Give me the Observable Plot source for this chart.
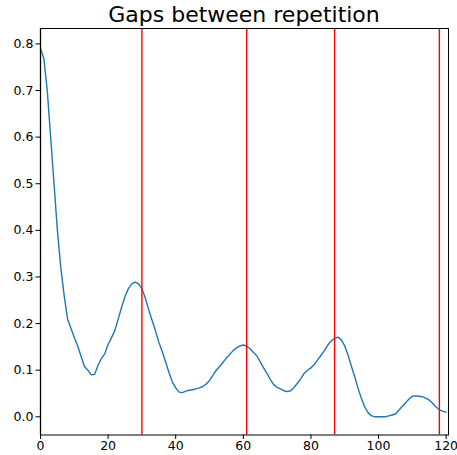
<!DOCTYPE html>
<html>
<head>
<meta charset="utf-8">
<script src="https://cdn.jsdelivr.net/npm/d3@7"></script>
<script src="https://cdn.jsdelivr.net/npm/@observablehq/plot@0.6"></script>
<style>
  html, body { margin: 0; padding: 0; background: #fff; }
  #title { box-sizing: border-box; width: 457px; height: 27px; padding: 4px 9px 0 40px; text-align: center;
           font: 22px "DejaVu Sans", sans-serif; line-height: 1; color: #000; white-space: nowrap; }
</style>
</head>
<body>
<div id="title">Gaps between repetition</div>
<div id="chart"></div>
<script>
const titleText = "Gaps between repetition";
const lags = [0,1,2,3,4,5,6,7,8,9,10,11,12,13,14,15,16,17,18,19,20,21,22,23,24,25,26,27,28,29,30,31,32,33,34,35,36,37,38,39,40,41,42,43,44,45,46,47,48,49,50,51,52,53,54,55,56,57,58,59,60,61,62,63,64,65,66,67,68,69,70,71,72,73,74,75,76,77,78,79,80,81,82,83,84,85,86,87,88,89,90,91,92,93,94,95,96,97,98,99,100,101,102,103,104,105,106,107,108,109,110,111,112,113,114,115,116,117,118,119,120];
const gapValues = [0.79,0.768,0.70,0.60,0.50,0.40,0.32,0.26,0.21,0.19,0.17,0.152,0.13,0.108,0.10,0.09,0.091,0.11,0.125,0.135,0.155,0.17,0.185,0.21,0.235,0.258,0.275,0.285,0.289,0.285,0.275,0.255,0.23,0.207,0.185,0.16,0.14,0.118,0.095,0.075,0.062,0.053,0.052,0.055,0.057,0.058,0.06,0.062,0.065,0.07,0.078,0.089,0.1,0.108,0.117,0.126,0.134,0.142,0.148,0.152,0.154,0.152,0.146,0.138,0.131,0.118,0.105,0.093,0.08,0.069,0.063,0.06,0.056,0.054,0.056,0.063,0.072,0.082,0.093,0.1,0.105,0.112,0.122,0.132,0.142,0.154,0.163,0.168,0.171,0.165,0.152,0.132,0.108,0.085,0.06,0.038,0.02,0.008,0.002,0.0,0.0,0.0,0.0,0.002,0.004,0.006,0.014,0.022,0.03,0.038,0.044,0.045,0.044,0.043,0.04,0.036,0.029,0.021,0.015,0.012,0.01];
const repetitionMarks = [0, 30, 61, 87, 118];
const xTicks = [0, 20, 40, 60, 80, 100, 120];
const yTicks = [0.0, 0.1, 0.2, 0.3, 0.4, 0.5, 0.6, 0.7, 0.8];

const data = lags.map((x, i) => ({x, y: gapValues[i]}));

const chart = Plot.plot({
  width: 457,
  height: 428,
  marginTop: 1,
  marginBottom: 20.5,
  marginLeft: 40,
  marginRight: 9,
  style: {fontFamily: "DejaVu Sans, sans-serif", fontSize: "12.5px", color: "#000", background: "#fff"},
  x: {domain: [0, 120.7]},
  y: {domain: [-0.039, 0.833]},
  marks: [
    Plot.line(data, {x: "x", y: "y", stroke: "#1f77b4", strokeWidth: 1.4}),
    Plot.ruleX(repetitionMarks, {stroke: "red", strokeWidth: 1.4}),
    Plot.frame({stroke: "#000", strokeWidth: 1}),
    Plot.axisX({ticks: xTicks, tickSize: 4.5, tickPadding: 2, label: null, tickFormat: d => String(d), fontSize: 12.5}),
    Plot.axisY({ticks: yTicks, tickSize: 4.5, tickPadding: 2.5, label: null, tickFormat: d => d.toFixed(1), fontSize: 12.5})
  ]
});
document.getElementById("chart").appendChild(chart);
</script>
</body>
</html>
